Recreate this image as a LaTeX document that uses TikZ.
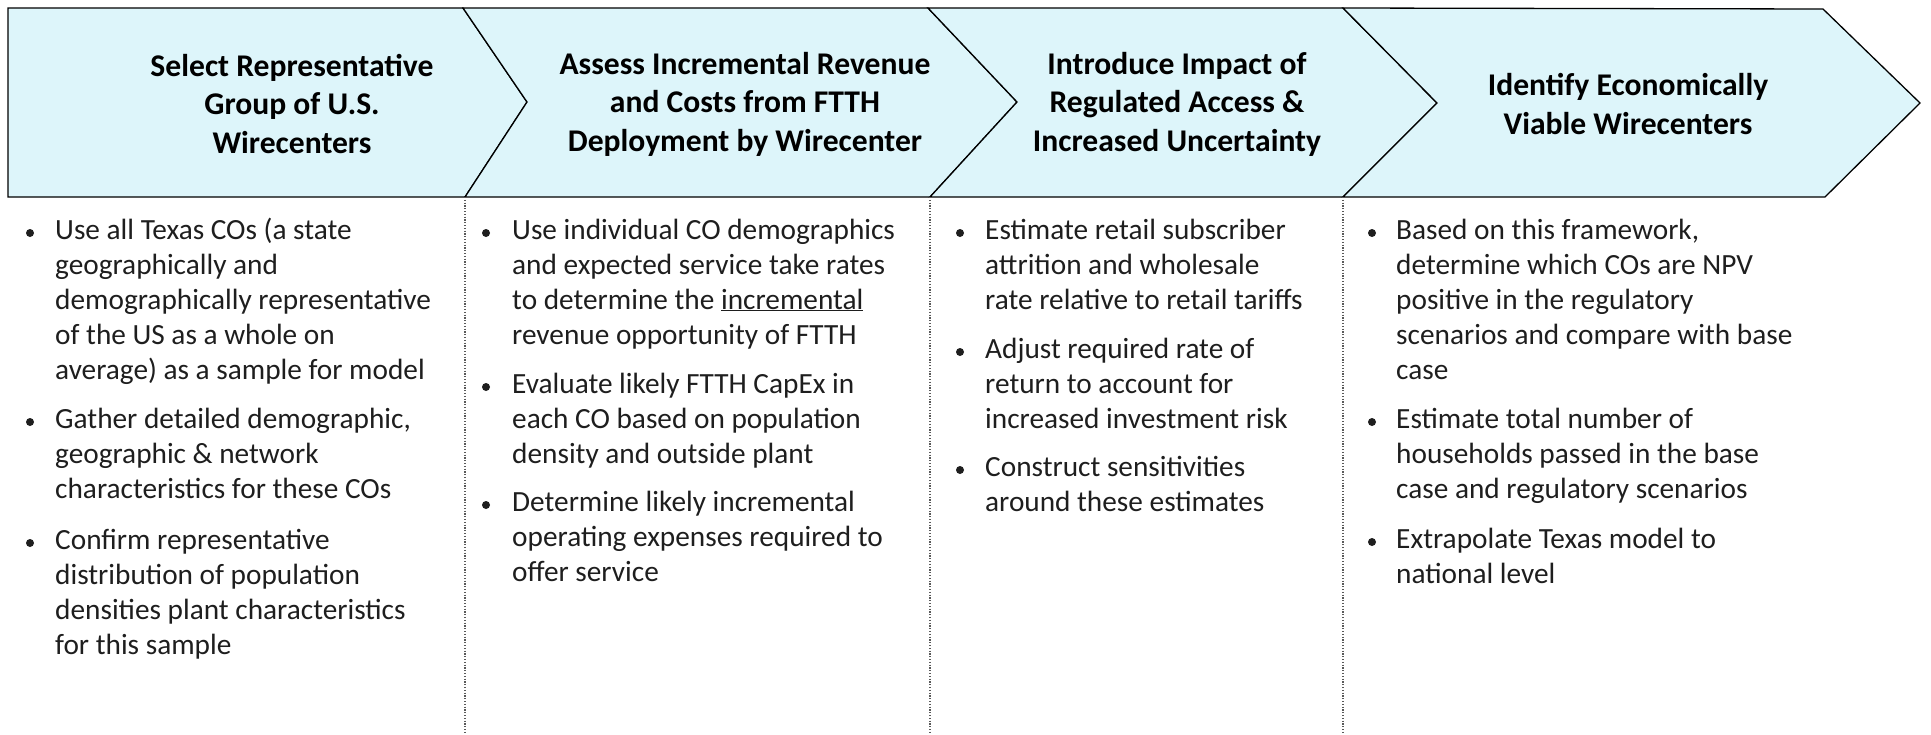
\documentclass[tikz,border=0pt]{standalone}
\usepackage{fontspec}
\setmainfont{Carlito}
\definecolor{chevfill}{RGB}{221,245,250}
\definecolor{bodyink}{RGB}{30,30,30}
\begin{document}
\begin{tikzpicture}[x=1pt,y=-1pt,
  chevron/.style={fill=chevfill, draw=black, line width=1.3pt, line join=miter},
  head/.style={font=\fontsize{31.6}{38.5}\selectfont\bfseries, align=center, inner sep=0pt, text=black},
  % body texts are anchored at the baseline of their last line
  body/.style={font=\fontsize{29.3}{35}\selectfont, align=left, inner sep=0pt, anchor=base west, text=bodyink},
  dot/.style={circle, fill=bodyink, minimum size=8pt, inner sep=0pt},
  divider/.style={line width=1.1pt, black!65, dash pattern=on 1.2pt off 1.6pt}]
\useasboundingbox (0,0) rectangle (1931,734);

% corner points of the chevron band
\coordinate (tl) at (8,8);     \coordinate (bl) at (8,197);
\coordinate (t1) at (463,8);   \coordinate (p1) at (527,102);  \coordinate (b1) at (465,197);
\coordinate (t2) at (928,8);   \coordinate (p2) at (1017,102); \coordinate (b2) at (930,197);
\coordinate (t3) at (1343,8);  \coordinate (p3) at (1437,103); \coordinate (b3) at (1343,197);
\coordinate (t4) at (1823,9);  \coordinate (p4) at (1920,103); \coordinate (b4) at (1825,197);
\coordinate (e1) at (465,734); \coordinate (e2) at (930,734);  \coordinate (e3) at (1343,734);

% the four process chevrons
\draw[chevron] (tl) -- (t1) -- (p1) -- (b1) -- (bl) -- cycle;
\draw[chevron] (t1) -- (t2) -- (p2) -- (b2) -- (b1) -- (p1) -- cycle;
\draw[chevron] (t2) -- (t3) -- (p3) -- (b3) -- (b2) -- (p2) -- cycle;
\draw[chevron] (t3) -- (t4) -- (p4) -- (b4) -- (b3) -- (p3) -- cycle;

% column dividers
\draw[divider] (b1) -- (e1);
\draw[divider] (b2) -- (e2);
\draw[divider] (b3) -- (e3);

% step titles
\node[head] (h1) at (292,104) {Select Representative\\Group of U.S.\\Wirecenters};
\node[head] (h2) at (745,104) {Assess Incremental Revenue\\and Costs from FTTH\\Deployment by Wirecenter};
\node[head] (h3) at (1177,104) {Introduce Impact of\\Regulated Access \&\\Increased Uncertainty};
\node[head] (h4) at (1628,104) {Identify Economically\\Viable Wirecenters};

% column 1
\node[dot] (d11) at (30,233) {};
\node[body] (c11) at (55,379) {Use all Texas COs (a state\\geographically and\\demographically representative\\of the US as a whole on\\average) as a sample for model};
\node[dot] (d12) at (30,422) {};
\node[body] (c12) at (55,498) {Gather detailed demographic,\\geographic \& network\\characteristics for these COs};
\node[dot] (d13) at (30,543) {};
\node[body] (c13) at (55,654) {Confirm representative\\distribution of population\\densities plant characteristics\\for this sample};

% column 2
\node[dot] (d21) at (486,233) {};
\node[body] (c21) at (512,344) {Use individual CO demographics\\and expected service take rates\\to determine the \underline{incremental}\\revenue opportunity of FTTH};
\node[dot] (d22) at (486,387) {};
\node[body] (c22) at (512,463) {Evaluate likely FTTH CapEx in\\each CO based on population\\density and outside plant};
\node[dot] (d23) at (486,505) {};
\node[body] (c23) at (512,581) {Determine likely incremental\\operating expenses required to\\offer service};

% column 3
\node[dot] (d31) at (960,233) {};
\node[body] (c31) at (985,309) {Estimate retail subscriber\\attrition and wholesale\\rate relative to retail tariffs};
\node[dot] (d32) at (960,352) {};
\node[body] (c32) at (985,428) {Adjust required rate of\\return to account for\\increased investment risk};
\node[dot] (d33) at (960,470) {};
\node[body] (c33) at (985,511) {Construct sensitivities\\around these estimates};

% column 4
\node[dot] (d41) at (1372,233) {};
\node[body] (c41) at (1396,379) {Based on this framework,\\determine which COs are NPV\\positive in the regulatory\\scenarios and compare with base\\case};
\node[dot] (d42) at (1372,422) {};
\node[body] (c42) at (1396,498) {Estimate total number of\\households passed in the base\\case and regulatory scenarios};
\node[dot] (d43) at (1372,542) {};
\node[body] (c43) at (1396,583) {Extrapolate Texas model to\\national level};
\end{tikzpicture}
\end{document}
